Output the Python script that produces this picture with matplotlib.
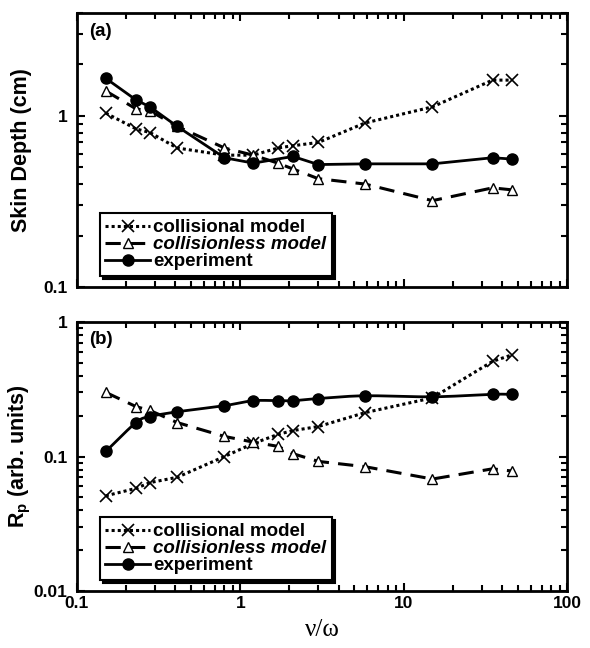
import numpy as np
import matplotlib
matplotlib.use("Agg")
import matplotlib.pyplot as plt
from matplotlib.lines import Line2D
from matplotlib.ticker import LogLocator, FixedLocator, FixedFormatter, NullFormatter

plt.rcParams["font.family"] = ["Liberation Sans", "DejaVu Sans"]
plt.rcParams["mathtext.fontset"] = "custom"
plt.rcParams["mathtext.rm"] = "Liberation Sans:bold"
plt.rcParams["mathtext.it"] = "Liberation Sans:bold"
plt.rcParams["mathtext.bf"] = "Liberation Sans:bold"

# collision frequency ratio nu/omega
x_model = [0.15, 0.23, 0.28, 0.41, 0.8, 1.2, 1.7, 2.1, 3.0, 5.8, 15, 35, 46]
x_exp_a = [0.15, 0.23, 0.28, 0.41, 0.8, 1.2, 2.1, 3.0, 5.8, 15, 35, 46]
x_exp_b = [0.15, 0.23, 0.28, 0.41, 0.8, 1.2, 1.7, 2.1, 3.0, 5.8, 15, 35, 46]

# (a) skin depth (cm)
skin_collisional = [1.04, 0.84, 0.80, 0.65, 0.59, 0.59, 0.65, 0.67, 0.70, 0.91, 1.13, 1.62, 1.62]
skin_collisionless = [1.40, 1.10, 1.07, 0.87, 0.65, 0.59, 0.53, 0.49, 0.43, 0.40, 0.32, 0.38, 0.37]
skin_experiment = [1.66, 1.24, 1.13, 0.87, 0.57, 0.53, 0.58, 0.52, 0.525, 0.525, 0.57, 0.56]

# (b) plasma resistance (arb. units)
rp_collisional = [0.051, 0.058, 0.064, 0.070, 0.100, 0.125, 0.146, 0.156, 0.167, 0.212, 0.273, 0.51, 0.57]
rp_collisionless = [0.30, 0.235, 0.22, 0.179, 0.141, 0.128, 0.119, 0.105, 0.092, 0.084, 0.068, 0.081, 0.078]
rp_experiment = [0.109, 0.179, 0.198, 0.215, 0.239, 0.26, 0.26, 0.26, 0.27, 0.283, 0.278, 0.29, 0.29]

labels = ["collisional model", "collisionless model", "experiment"]


def smooth_loglog(xs, ys, n=24):
    """Catmull-Rom curve through the points, evaluated in log-log space."""
    lx, ly = np.log10(xs), np.log10(ys)
    px = np.concatenate([[2 * lx[0] - lx[1]], lx, [2 * lx[-1] - lx[-2]]])
    py = np.concatenate([[2 * ly[0] - ly[1]], ly, [2 * ly[-1] - ly[-2]]])
    out_x, out_y = [], []
    t = np.linspace(0, 1, n, endpoint=False)
    for i in range(1, len(px) - 2):
        for p, out in ((px, out_x), (py, out_y)):
            p0, p1, p2, p3 = p[i - 1], p[i], p[i + 1], p[i + 2]
            seg = 0.5 * ((2 * p1) + (-p0 + p2) * t
                         + (2 * p0 - 5 * p1 + 4 * p2 - p3) * t ** 2
                         + (-p0 + 3 * p1 - 3 * p2 + p3) * t ** 3)
            out.extend(seg)
    out_x.append(lx[-1])
    out_y.append(ly[-1])
    return 10 ** np.array(out_x), 10 ** np.array(out_y)


fig = plt.figure(figsize=(5.9, 6.48), dpi=100)
ax_a = fig.add_axes([0.1305, 0.557, 0.8305, 0.423])
ax_b = fig.add_axes([0.1305, 0.088, 0.8305, 0.415])

styles = [
    dict(color="black", lw=2.2, ls=(0, (1, 1)), marker="x", ms=8, mew=1.2),
    dict(color="black", lw=2.2, ls=(0, (5, 3)), marker="^", ms=7, mew=1.0, mfc="white"),
    dict(color="black", lw=2.0, ls="-", marker="o", ms=8),
]


def draw(ax, yc, yl, xe, ye, smooth_exp):
    ax.plot(x_model, yc, **styles[0])
    ax.plot(x_model, yl, **styles[1])
    if smooth_exp:
        sx, sy = smooth_loglog(xe, ye)
        ax.plot(sx, sy, color="black", lw=2.0, ls="-")
        ax.plot(xe, ye, color="black", ls="none", marker="o", ms=8)
    else:
        ax.plot(xe, ye, **styles[2])
    ax.set_xscale("log")
    ax.set_yscale("log")
    ax.set_xlim(0.1, 100)
    for s in ax.spines.values():
        s.set_linewidth(2)
    ax.tick_params(which="both", direction="in", top=True, right=True, width=1.5)
    ax.tick_params(which="major", length=6)
    ax.tick_params(which="minor", length=4)
    ax.xaxis.set_minor_locator(LogLocator(base=10, subs=np.arange(2, 10)))
    ax.yaxis.set_minor_locator(LogLocator(base=10, subs=np.arange(2, 10)))
    ax.yaxis.set_minor_formatter(NullFormatter())
    ax.xaxis.set_minor_formatter(NullFormatter())
    handles = [Line2D([], [], **st) for st in styles]
    leg = ax.legend(handles=handles, labels=labels, loc="lower left",
                    bbox_to_anchor=(0.035, 0.02), frameon=True, fancybox=False,
                    shadow={"color": "black", "alpha": 1.0},
                    handlelength=2.4, handletextpad=0.15,
                    borderpad=0.3, labelspacing=0.0, borderaxespad=0.3,
                    prop=dict(size=13.5, weight="bold"))
    leg.get_frame().set_edgecolor("black")
    leg.get_frame().set_linewidth(1.5)
    leg.get_texts()[1].set_fontstyle("italic")
    return leg


draw(ax_a, skin_collisional, skin_collisionless, x_exp_a, skin_experiment, False)
draw(ax_b, rp_collisional, rp_collisionless, x_exp_b, rp_experiment, True)

ax_a.set_ylim(0.1, 4)
ax_a.yaxis.set_major_locator(FixedLocator([0.1, 1]))
ax_a.yaxis.set_major_formatter(FixedFormatter(["0.1", "1"]))
ax_a.xaxis.set_major_locator(FixedLocator([0.1, 1, 10, 100]))
ax_a.xaxis.set_major_formatter(NullFormatter())
ax_a.set_ylabel("Skin Depth (cm)", fontsize=15.5, fontweight="bold", labelpad=8)
ax_a.text(0.025, 0.965, "(a)", transform=ax_a.transAxes, fontsize=13.5,
          fontweight="bold", va="top", ha="left")

ax_b.set_ylim(0.01, 1)
ax_b.yaxis.set_major_locator(FixedLocator([0.01, 0.1, 1]))
ax_b.yaxis.set_major_formatter(FixedFormatter(["0.01", "0.1", "1"]))
ax_b.xaxis.set_major_locator(FixedLocator([0.1, 1, 10, 100]))
ax_b.xaxis.set_major_formatter(FixedFormatter(["0.1", "1", "10", "100"]))
ax_b.set_ylabel(r"$\mathregular{R_p}$ (arb. units)", fontsize=15.5,
                fontweight="bold", labelpad=0)
ax_b.set_xlabel("ν/ω", fontsize=18, family=["Liberation Serif", "DejaVu Serif"],
                labelpad=6)
ax_b.text(0.025, 0.965, "(b)", transform=ax_b.transAxes, fontsize=13.5,
          fontweight="bold", va="top", ha="left")

for ax in (ax_a, ax_b):
    for lab in ax.get_xticklabels() + ax.get_yticklabels():
        lab.set_fontsize(12.5)
        lab.set_fontweight("bold")
    ax.tick_params(axis="y", pad=7)

fig.savefig("out.png", dpi=100)
